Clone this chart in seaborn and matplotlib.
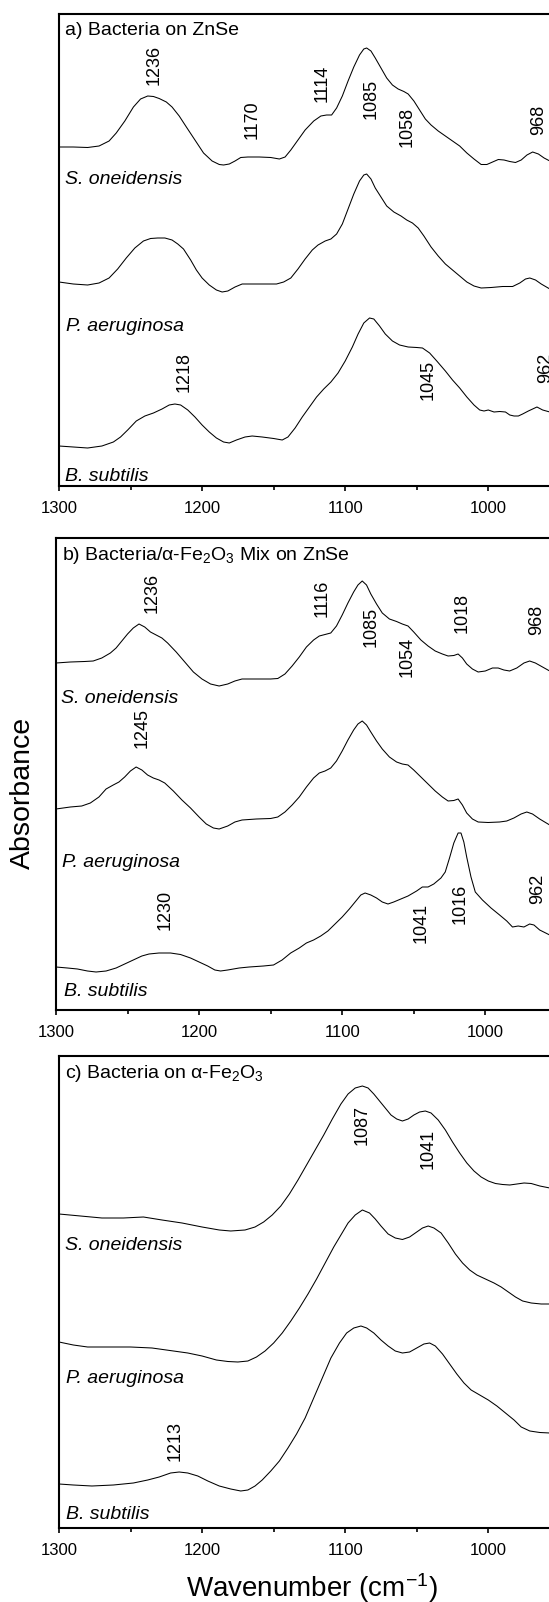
import matplotlib
matplotlib.use("Agg")
import matplotlib.pyplot as plt
import numpy as np
import pandas as pd
import seaborn as sns
from matplotlib.ticker import FixedLocator

# ---------------- data (wavenumber in cm-1, absorbance in offset a.u.) ----------------
species = ["S. oneidensis", "P. aeruginosa", "B. subtilis"]

# Panel a) Bacteria on ZnSe
a_so_wn = [1300, 1290, 1280, 1272, 1265, 1260, 1254, 1248, 1243, 1238, 1234, 1230, 1225, 1221, 1216, 1211, 1205, 1199,
           1193, 1188, 1185, 1181, 1177, 1173, 1168, 1160, 1152, 1146, 1142, 1138, 1133, 1128, 1122, 1117, 1113, 1109.5,
           1106, 1102, 1098, 1094, 1090, 1087, 1085, 1082, 1079, 1075, 1071, 1067, 1063, 1059, 1056, 1052, 1048, 1044,
           1040, 1035, 1030, 1025, 1020, 1015, 1010, 1005, 1001, 997, 993, 989, 985, 981, 977, 973, 969, 965, 961, 957]
a_so_ab = [3.39, 3.39, 3.385, 3.40, 3.45, 3.53, 3.65, 3.79, 3.87, 3.90, 3.895, 3.875, 3.84, 3.79, 3.70, 3.59, 3.46, 3.33,
           3.25, 3.215, 3.21, 3.22, 3.25, 3.285, 3.29, 3.29, 3.285, 3.27, 3.29, 3.36, 3.46, 3.56, 3.65, 3.70, 3.71, 3.71,
           3.78, 3.90, 4.05, 4.19, 4.31, 4.37, 4.38, 4.35, 4.28, 4.18, 4.08, 4.01, 3.97, 3.945, 3.92, 3.85, 3.76, 3.67,
           3.61, 3.55, 3.50, 3.45, 3.40, 3.33, 3.27, 3.215, 3.215, 3.24, 3.265, 3.26, 3.245, 3.235, 3.26, 3.31, 3.34, 3.32,
           3.28, 3.25]
a_pa_wn = [1300, 1290, 1280, 1272, 1265, 1259, 1253, 1247, 1241, 1236, 1231, 1226, 1221, 1217, 1213, 1208, 1204, 1200,
           1195, 1190, 1186, 1182, 1177, 1172, 1165, 1155, 1148, 1143, 1138, 1133, 1128, 1123, 1119, 1114, 1110, 1106,
           1102, 1098, 1094, 1090, 1087, 1085, 1082, 1079, 1075, 1071, 1066, 1061, 1057, 1053, 1049, 1045, 1040, 1035,
           1030, 1025, 1020, 1015, 1010, 1005, 998, 990, 983, 978, 974, 971, 967, 963, 957]
a_pa_ab = [2.04, 2.02, 2.01, 2.03, 2.08, 2.17, 2.28, 2.38, 2.45, 2.475, 2.48, 2.48, 2.46, 2.42, 2.37, 2.26, 2.16, 2.08,
           2.01, 1.96, 1.94, 1.95, 1.99, 2.02, 2.02, 2.02, 2.02, 2.04, 2.08, 2.17, 2.27, 2.36, 2.41, 2.45, 2.47, 2.52,
           2.62, 2.77, 2.92, 3.05, 3.11, 3.12, 3.07, 2.98, 2.89, 2.80, 2.74, 2.70, 2.66, 2.63, 2.58, 2.50, 2.39, 2.30,
           2.22, 2.16, 2.10, 2.04, 2.00, 1.98, 1.985, 1.995, 1.995, 2.03, 2.07, 2.08, 2.06, 2.02, 1.97]
a_bs_wn = [1300, 1290, 1280, 1270, 1262, 1257, 1252, 1246, 1240, 1234, 1228, 1223, 1219, 1215, 1210, 1205, 1200, 1195,
           1190, 1185, 1181, 1176, 1170, 1165, 1158, 1150, 1144, 1140, 1135, 1130, 1125, 1120, 1115, 1110, 1105, 1100,
           1095, 1091, 1087, 1083, 1080, 1076, 1072, 1067, 1062, 1056, 1050, 1046, 1041, 1036, 1030, 1025, 1020, 1015,
           1010, 1006, 1003, 1000, 996, 992, 988, 985, 982, 979, 976, 972, 969, 966, 962, 957]
a_bs_ab = [0.40, 0.39, 0.38, 0.40, 0.44, 0.49, 0.56, 0.65, 0.70, 0.73, 0.77, 0.81, 0.82, 0.81, 0.76, 0.69, 0.61, 0.54,
           0.48, 0.44, 0.43, 0.46, 0.49, 0.50, 0.49, 0.475, 0.46, 0.49, 0.58, 0.69, 0.79, 0.89, 0.97, 1.04, 1.13, 1.25,
           1.39, 1.52, 1.63, 1.68, 1.67, 1.60, 1.52, 1.45, 1.41, 1.39, 1.385, 1.38, 1.33, 1.25, 1.15, 1.06, 0.98, 0.89,
           0.81, 0.76, 0.75, 0.76, 0.74, 0.745, 0.74, 0.71, 0.70, 0.70, 0.72, 0.75, 0.77, 0.79, 0.76, 0.74]

# Panel b) Bacteria/alpha-Fe2O3 mix on ZnSe
b_so_wn = [1300, 1290, 1280, 1274, 1268, 1262, 1258, 1254, 1250, 1246, 1242, 1238, 1234, 1230, 1226, 1222, 1216, 1210,
           1204, 1198, 1192, 1186, 1180, 1175, 1170, 1160, 1150, 1145, 1140, 1135, 1130, 1125, 1120, 1116, 1112, 1108,
           1104, 1100, 1096, 1092, 1089, 1086, 1083, 1080, 1076, 1072, 1067, 1062, 1058, 1054, 1050, 1045, 1040, 1035,
           1030, 1026, 1022, 1019, 1016, 1013, 1009, 1005, 1000, 995, 991, 987, 983, 978, 973, 969, 965, 960, 955]
b_so_ab = [3.47, 3.48, 3.485, 3.49, 3.52, 3.57, 3.62, 3.69, 3.76, 3.82, 3.86, 3.83, 3.78, 3.75, 3.72, 3.67, 3.58, 3.48,
           3.38, 3.31, 3.26, 3.24, 3.26, 3.29, 3.31, 3.31, 3.31, 3.315, 3.36, 3.44, 3.53, 3.63, 3.70, 3.74, 3.755, 3.77,
           3.84, 3.95, 4.07, 4.18, 4.25, 4.29, 4.25, 4.16, 4.06, 3.97, 3.91, 3.885, 3.86, 3.84, 3.78, 3.70, 3.64, 3.59,
           3.56, 3.54, 3.545, 3.56, 3.52, 3.46, 3.41, 3.38, 3.39, 3.42, 3.42, 3.40, 3.39, 3.42, 3.47, 3.49, 3.47, 3.43,
           3.39]
b_pa_wn = [1300, 1290, 1282, 1276, 1270, 1265, 1260, 1256, 1252, 1248, 1244, 1240, 1236, 1232, 1228, 1224, 1218, 1212,
           1206, 1200, 1195, 1190, 1186, 1180, 1175, 1170, 1160, 1150, 1145, 1140, 1135, 1130, 1125, 1120, 1116, 1112,
           1108, 1104, 1100, 1096, 1092, 1089, 1086, 1083, 1080, 1076, 1072, 1067, 1062, 1058, 1054, 1050, 1045, 1040,
           1035, 1030, 1026, 1022, 1019, 1016, 1013, 1009, 1005, 998, 990, 985, 980, 975, 971, 967, 962, 955]
b_pa_ab = [2.01, 2.03, 2.04, 2.07, 2.13, 2.21, 2.25, 2.28, 2.33, 2.39, 2.43, 2.40, 2.35, 2.32, 2.30, 2.27, 2.19, 2.10,
           2.02, 1.93, 1.86, 1.82, 1.81, 1.84, 1.88, 1.90, 1.91, 1.915, 1.93, 1.98, 2.05, 2.13, 2.23, 2.32, 2.37, 2.39,
           2.42, 2.49, 2.59, 2.70, 2.80, 2.86, 2.89, 2.85, 2.78, 2.69, 2.61, 2.53, 2.48, 2.46, 2.45, 2.40, 2.33, 2.26,
           2.19, 2.13, 2.09, 2.095, 2.11, 2.05, 1.97, 1.91, 1.88, 1.875, 1.88, 1.89, 1.92, 1.96, 1.98, 1.96, 1.91, 1.85]
b_bs_wn = [1300, 1292, 1285, 1278, 1272, 1265, 1258, 1252, 1246, 1240, 1235, 1228, 1220, 1213, 1206, 1200, 1194, 1189,
           1185, 1180, 1172, 1165, 1155, 1148, 1142, 1136, 1130, 1125, 1120, 1115, 1110, 1105, 1100, 1095, 1091, 1087,
           1084, 1080, 1076, 1072, 1068, 1064, 1059, 1054, 1048, 1044, 1040, 1036, 1031, 1028, 1025, 1022, 1019, 1017,
           1015, 1013, 1010, 1007, 1002, 996, 990, 985, 981, 977, 973, 969, 966, 962, 955]
b_bs_ab = [0.43, 0.42, 0.41, 0.39, 0.38, 0.39, 0.42, 0.46, 0.50, 0.54, 0.56, 0.57, 0.57, 0.555, 0.52, 0.48, 0.44, 0.40,
           0.39, 0.40, 0.42, 0.43, 0.44, 0.45, 0.50, 0.57, 0.62, 0.67, 0.70, 0.74, 0.79, 0.86, 0.93, 1.01, 1.08, 1.15,
           1.17, 1.15, 1.12, 1.08, 1.06, 1.08, 1.11, 1.14, 1.19, 1.23, 1.23, 1.26, 1.32, 1.38, 1.52, 1.67, 1.77, 1.77,
           1.68, 1.53, 1.33, 1.18, 1.10, 1.02, 0.95, 0.89, 0.83, 0.84, 0.83, 0.86, 0.85, 0.80, 0.75]

# Panel c) Bacteria on alpha-Fe2O3
c_so_wn = [1300, 1285, 1270, 1255, 1241, 1228, 1214, 1200, 1188, 1180, 1170, 1163, 1157, 1151, 1145, 1139, 1133, 1127,
           1121, 1115, 1109, 1103, 1098, 1093, 1088, 1084, 1080, 1076, 1072, 1068, 1064, 1060, 1056, 1052, 1048, 1044,
           1040, 1035, 1030, 1025, 1020, 1015, 1010, 1005, 1000, 995, 990, 985, 980, 975, 970, 964, 957]
c_so_ab = [3.14, 3.12, 3.10, 3.10, 3.11, 3.08, 3.05, 3.01, 2.98, 2.97, 2.98, 3.01, 3.06, 3.13, 3.22, 3.34, 3.48, 3.63,
           3.78, 3.93, 4.09, 4.24, 4.34, 4.40, 4.42, 4.40, 4.34, 4.27, 4.20, 4.13, 4.09, 4.07, 4.09, 4.13, 4.16, 4.17,
           4.15, 4.08, 3.98, 3.86, 3.75, 3.65, 3.57, 3.51, 3.47, 3.445, 3.435, 3.43, 3.44, 3.45, 3.445, 3.42, 3.40]
c_pa_wn = [1300, 1290, 1280, 1265, 1250, 1235, 1220, 1210, 1200, 1190, 1182, 1175, 1168, 1162, 1156, 1150, 1144, 1138,
           1132, 1126, 1120, 1114, 1108, 1103, 1098, 1093, 1088, 1083, 1079, 1075, 1070, 1065, 1060, 1055, 1050, 1046,
           1042, 1038, 1033, 1028, 1023, 1018, 1013, 1008, 1002, 996, 991, 986, 981, 976, 970, 963, 957]
c_pa_ab = [1.86, 1.83, 1.81, 1.81, 1.81, 1.80, 1.77, 1.75, 1.72, 1.68, 1.665, 1.66, 1.67, 1.71, 1.77, 1.85, 1.95, 2.07,
           2.20, 2.34, 2.49, 2.65, 2.81, 2.93, 3.05, 3.13, 3.18, 3.15, 3.09, 3.02, 2.94, 2.90, 2.885, 2.91, 2.96, 3.00,
           3.02, 3.00, 2.95, 2.85, 2.74, 2.65, 2.58, 2.53, 2.49, 2.45, 2.41, 2.36, 2.31, 2.27, 2.25, 2.24, 2.24]
c_bs_wn = [1300, 1290, 1277, 1262, 1248, 1238, 1230, 1222, 1216, 1210, 1203, 1196, 1188, 1180, 1173, 1168, 1163, 1158,
           1152, 1146, 1140, 1134, 1128, 1122, 1116, 1110, 1104, 1099, 1094, 1089, 1085, 1080, 1075, 1070, 1065, 1060,
           1055, 1050, 1045, 1041, 1037, 1032, 1027, 1022, 1017, 1012, 1006, 1000, 994, 988, 982, 977, 971, 964, 957]
c_bs_ab = [0.44, 0.43, 0.42, 0.43, 0.45, 0.48, 0.51, 0.55, 0.56, 0.55, 0.52, 0.47, 0.42, 0.39, 0.37, 0.38, 0.42, 0.48,
           0.57, 0.67, 0.80, 0.94, 1.10, 1.30, 1.50, 1.70, 1.85, 1.95, 2.00, 2.02, 2.00, 1.95, 1.88, 1.82, 1.77, 1.75,
           1.76, 1.80, 1.84, 1.85, 1.82, 1.74, 1.64, 1.54, 1.45, 1.38, 1.33, 1.28, 1.22, 1.15, 1.08, 1.01, 0.97, 0.955,
           0.95]

panel_titles = ["a) Bacteria on ZnSe",
                "b) Bacteria/α-Fe$_2$O$_3$ Mix on ZnSe",
                "c) Bacteria on α-Fe$_2$O$_3$"]

# peak labels: (text, wavenumber position, absorbance position)
a_peaks = [("1236", 1233.6, 4.21), ("1170", 1165, 3.66), ("1114", 1116, 4.03), ("1085", 1082, 3.87),
           ("1058", 1057, 3.59), ("968", 965, 3.66), ("1218", 1212.6, 1.14), ("1045", 1042, 1.06),
           ("962", 960, 1.18)]
b_peaks = [("1236", 1232.6, 4.17), ("1116", 1113.9, 4.12), ("1085", 1079.6, 3.83), ("1054", 1054.6, 3.53),
           ("1018", 1016.4, 3.97), ("968", 964, 3.90), ("1245", 1240, 2.82), ("1230", 1224, 1.00),
           ("1041", 1044.5, 0.87), ("1016", 1017.8, 1.06), ("962", 963.5, 1.21)]
c_peaks = [("1087", 1088.4, 4.03), ("1041", 1042, 3.79), ("1213", 1218.8, 0.87)]

x_major = [1300, 1200, 1100, 1000]
x_minor = [1250, 1150, 1050, 950]

# ---------------- styling / layout ----------------
sns.set_theme(style="white")
plt.rcParams["font.family"] = ["Liberation Sans", "DejaVu Sans"]
plt.rcParams["mathtext.default"] = "regular"

W, H = 549, 1602
fig = plt.figure(figsize=(W / 100, H / 100), dpi=100)


def add_axes_px(left, top, right, bottom):
    return fig.add_axes([left / W, 1 - bottom / H, (right - left) / W, (bottom - top) / H])


panel_specs = [
    dict(box=(59, 14, 565, 486), curves=[(a_so_wn, a_so_ab), (a_pa_wn, a_pa_ab), (a_bs_wn, a_bs_ab)],
         peaks=a_peaks, title_pos=(65, 35),
         sp_pos=[(65, 184), (66, 331), (65, 481)]),
    dict(box=(56, 538, 562, 1010), curves=[(b_so_wn, b_so_ab), (b_pa_wn, b_pa_ab), (b_bs_wn, b_bs_ab)],
         peaks=b_peaks, title_pos=(62, 560),
         sp_pos=[(61, 703), (62, 867), (64, 996)]),
    dict(box=(59, 1056, 565, 1528), curves=[(c_so_wn, c_so_ab), (c_pa_wn, c_pa_ab), (c_bs_wn, c_bs_ab)],
         peaks=c_peaks, title_pos=(65, 1078),
         sp_pos=[(65, 1250), (66, 1383), (66, 1519)]),
]

x_right = 946.4
for i, spec in enumerate(panel_specs):
    ax = add_axes_px(*spec["box"])
    for (wn, ab), name in zip(spec["curves"], species):
        df = pd.DataFrame({"wn": wn, "ab": ab})
        sns.lineplot(data=df, x="wn", y="ab", ax=ax, color="black", linewidth=0.75,
                     estimator=None, sort=False)
    ax.set_xlim(1300, x_right)
    ax.set_ylim(0, 4.72)
    ax.set_xlabel("")
    ax.set_ylabel("")
    ax.set_yticks([])
    ax.xaxis.set_major_locator(FixedLocator(x_major))
    ax.xaxis.set_minor_locator(FixedLocator(x_minor))
    ax.set_xticklabels([str(v) for v in x_major])
    ax.tick_params(axis="x", which="major", bottom=True, top=False, direction="out",
                   length=3.3, width=1.2, pad=7.5, labelsize=12, colors="black")
    ax.tick_params(axis="x", which="minor", bottom=True, top=False, direction="out",
                   length=3.0, width=1.2, colors="black")
    for side in ["left", "top", "bottom"]:
        ax.spines[side].set_visible(True)
        ax.spines[side].set_color("black")
        ax.spines[side].set_linewidth(1.5)
    ax.spines["right"].set_visible(False)
    ax.patch.set_visible(False)

    for txt, xw, yv in spec["peaks"]:
        ax.text(xw, yv, txt, rotation=90, ha="center", va="center", fontsize=13,
                color="black", clip_on=False)

    tx, ty = spec["title_pos"]
    fig.text(tx / W, 1 - ty / H, panel_titles[i], fontsize=14, ha="left", va="baseline", color="black")
    for (sx, sy), name in zip(spec["sp_pos"], species):
        fig.text(sx / W, 1 - sy / H, name, fontsize=14, style="italic", ha="left",
                 va="baseline", color="black")

fig.text(23 / W, 1 - 793 / H, "Absorbance", rotation=90, ha="center", va="center",
         fontsize=20.5, color="black")
fig.text(312 / W, 1 - 1588 / H, "Wavenumber (cm$^{-1}$)", ha="center", va="center",
         fontsize=20, color="black")

fig.savefig("out.png", dpi=100, facecolor="white")
